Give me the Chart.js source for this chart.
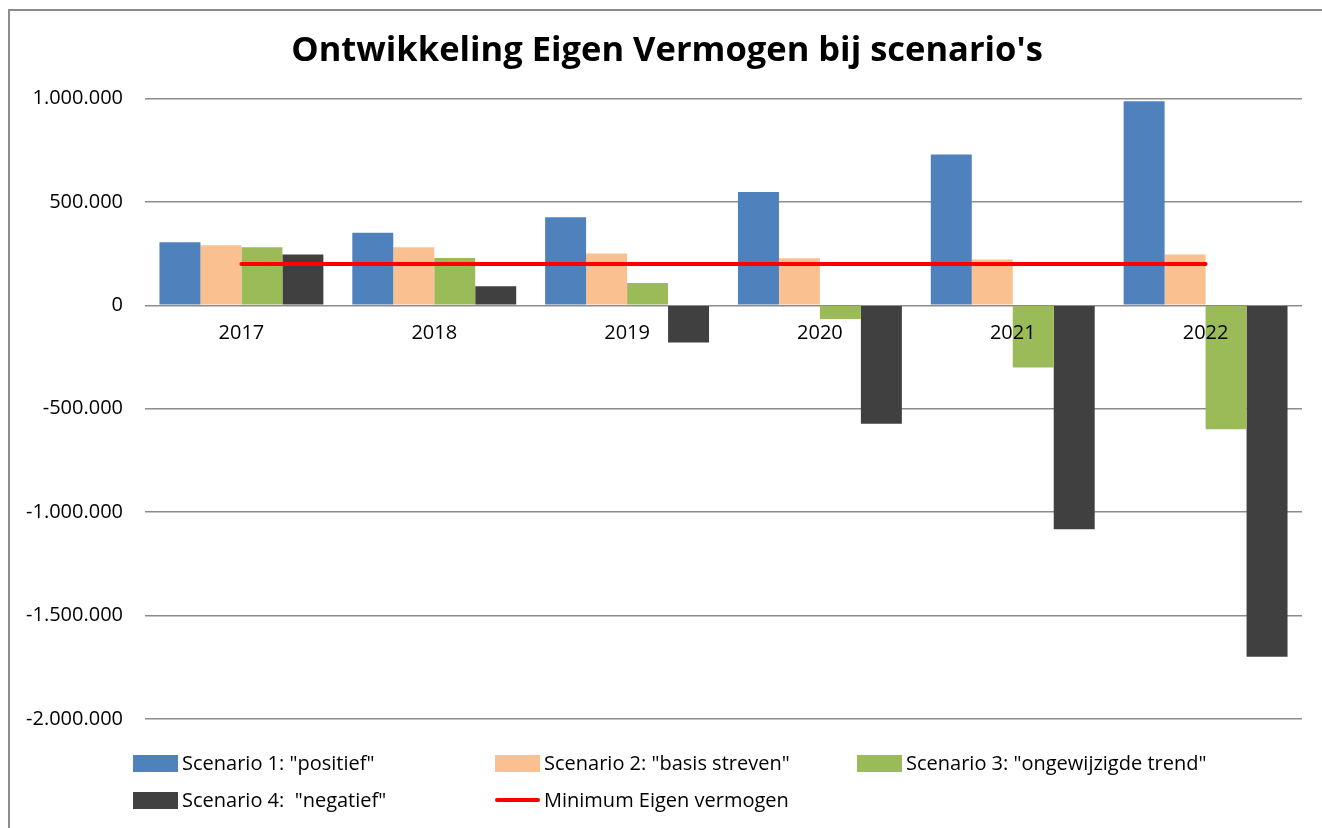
<!DOCTYPE html>
<html><head><meta charset="utf-8">
<script src="https://cdn.jsdelivr.net/npm/chart.js@4/dist/chart.umd.min.js"></script>
<style>html,body{margin:0;padding:0;background:#fff;} #wrap{position:relative;width:1322px;height:828px;}</style>
</head><body><div id="wrap"><canvas id="c"></canvas></div>
<script>
const categories = ['2017', '2018', '2019', '2020', '2021', '2022'];
const scenario1 = [305000, 350000, 425000, 547000, 729000, 986000];
const scenario2 = [290000, 281000, 250000, 227000, 221000, 245000];
const scenario3 = [281000, 228000, 108000, -66000, -301000, -599000];
const scenario4 = [245000, 92000, -180000, -573000, -1083000, -1699000];
const minimumEV = [200000, 200000, 200000, 200000, 200000, 200000];
const seriesNames = ['Scenario 1: "positief"', 'Scenario 2: "basis streven"', 'Scenario 3: "ongewijzigde trend"', 'Scenario 4:  "negatief"', 'Minimum Eigen vermogen'];
const yMin = -2000000, yMax = 1000000, yStep = 500000;
const titleText = "Ontwikkeling Eigen Vermogen bij scenario's";

function fmt(v) {
  const s = Math.abs(v).toString().replace(/\B(?=(\d{3})+(?!\d))/g, '.');
  return (v < 0 ? '-' : '') + s;
}

const frame = {
  id: 'frame',
  afterLayout(chart) {
    const t = chart.titleBlock;
    if (t) { t.left += 32; }
  },
  beforeDraw(chart) {
    const ctx = chart.ctx;
    ctx.save();
    ctx.strokeStyle = '#8c8c8c';
    ctx.lineWidth = 2;
    ctx.strokeRect(9, 10, chart.width + 20, chart.height + 20);
    ctx.restore();
  }
};

const gridLegend = {
  id: 'gridLegend',
  afterDraw(chart) {
    const ctx = chart.ctx;
    const a = chart.chartArea;
    const x0 = a.left - 12, colW = 362;
    const y0 = a.bottom + 44, rowH = 37;
    ctx.save();
    chart.data.datasets.forEach((ds, i) => {
      const col = i % 3, row = Math.floor(i / 3);
      const x = x0 + col * colW, y = y0 + row * rowH;
      if (ds.type === 'line') {
        ctx.strokeStyle = ds.borderColor; ctx.lineWidth = 4; ctx.lineCap = 'round';
        ctx.beginPath(); ctx.moveTo(x + 2, y); ctx.lineTo(x + 43, y); ctx.stroke();
      } else {
        ctx.fillStyle = ds.backgroundColor;
        ctx.fillRect(x, y - 8, 45, 17);
      }
      ctx.fillStyle = '#000';
      ctx.font = '20px "Open Sans"';
      ctx.textBaseline = 'middle';
      ctx.textAlign = 'left';
      ctx.fillText(ds.label, x + 49, y + 1);
    });
    ctx.restore();
  }
};

const barDs = (label, data, color) => ({ type: 'bar', label, data, backgroundColor: color, borderWidth: 0, order: 1, categoryPercentage: 0.85, barPercentage: 1.0 });

new Chart(document.getElementById('c'), {
  type: 'bar',
  data: {
    labels: categories,
    datasets: [
      barDs(seriesNames[0], scenario1, '#4F81BD'),
      barDs(seriesNames[1], scenario2, '#FAC090'),
      barDs(seriesNames[2], scenario3, '#9BBB59'),
      barDs(seriesNames[3], scenario4, '#404040'),
      { type: 'line', label: seriesNames[4], data: minimumEV, borderColor: '#FF0000', backgroundColor: '#FF0000', borderWidth: 4, borderCapStyle: 'round', pointRadius: 0, order: 0, fill: false }
    ]
  },
  options: {
    responsive: true, maintainAspectRatio: false, animation: false,
    layout: { padding: { left: 0, right: 20, top: 0, bottom: 109 } },
    plugins: {
      legend: { display: false },
      tooltip: { enabled: false },
      title: { display: true, text: titleText, color: '#000', font: { family: '"Open Sans"', size: 34.5, weight: 'bold' }, padding: { top: 30, bottom: 27 } }
    },
    scales: {
      x: {
        position: { y: 0 },
        grid: { display: false, drawTicks: false },
        border: { display: false },
        ticks: { z: 1, color: '#000', font: { family: '"Open Sans"', size: 20 }, padding: 16, maxRotation: 0 }
      },
      y: {
        min: yMin, max: yMax,
        afterFit: (s) => { s.width = 145; },
        grid: { color: '#8c8c8c', lineWidth: 1.5, drawTicks: false },
        border: { display: false },
        ticks: { stepSize: yStep, color: '#000', font: { family: '"Open Sans"', size: 20 }, padding: 22, callback: (v) => fmt(v) }
      }
    }
  },
  plugins: [frame, gridLegend]
});
</script></body></html>
